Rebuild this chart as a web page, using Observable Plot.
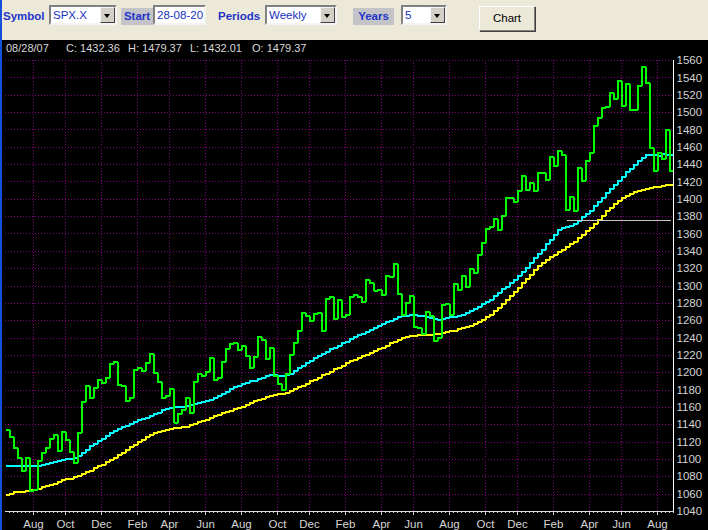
<!DOCTYPE html>
<html>
<head>
<meta charset="utf-8">
<script src="https://cdn.jsdelivr.net/npm/d3@7"></script>
<script src="https://cdn.jsdelivr.net/npm/@observablehq/plot@0.6"></script>
<style>
  html, body { margin: 0; padding: 0; background: #000; }
  body { width: 708px; height: 530px; position: relative; overflow: hidden;
         font-family: "Liberation Sans", Arial, sans-serif; }
  #toolbar { position: absolute; left: 0; top: 0; width: 708px; height: 40px; background: #ece9d8; }
  #edge { position: absolute; left: 0; top: 0; width: 2px; height: 530px; background: #1450d8; z-index: 5; }
  .lbl { position: absolute; top: 8px; height: 17px; line-height: 17px; font-weight: bold;
         font-size: 11.5px; color: #2233c8; white-space: nowrap; }
  .lbl.shade { background: #c4c4c8; text-align: center; }
  .field { position: absolute; top: 5px; height: 20px; box-sizing: border-box; background: #fff;
           border: 2px solid; border-color: #808080 #f4f4f4 #f4f4f4 #808080;
           font-size: 11.5px; line-height: 16px; color: #1530c0; padding-left: 2px; white-space: nowrap; }
  .drop { position: absolute; top: 0; right: 0; width: 15px; height: 16px; box-sizing: border-box;
          background: #d4d0c8; border: 1px solid; border-color: #f4f4f4 #404040 #404040 #f4f4f4; }
  .drop::after { content: ""; position: absolute; left: 3px; top: 6px; border-style: solid;
                 border-width: 4px 3.5px 0 3.5px; border-color: #000 transparent transparent transparent; }
  .button { position: absolute; top: 6px; height: 25px; box-sizing: border-box; background: #ece9d8;
            border: 1px solid; border-color: #fff #808080 #808080 #fff; box-shadow: 1px 1px 0 #404040;
            font-size: 11.5px; line-height: 23px; text-align: center; color: #000; }
  #chart { position: absolute; left: 0; top: 40px; }
  #info { position: absolute; left: 0; top: 42px; height: 12px; font-size: 11px; color: #d8d8d8;
          white-space: nowrap; }
  #info span { position: absolute; top: 0; }
</style>
</head>
<body>
<div id="toolbar">
  <span class="lbl" style="left:3px">Symbol</span>
  <div class="field" style="left:49px;width:68px">SPX.X<i class="drop"></i></div>
  <span class="lbl shade" style="left:121px;width:32px">Start</span>
  <div class="field" style="left:153px;width:53px">28-08-20</div>
  <span class="lbl" style="left:218px">Periods</span>
  <div class="field" style="left:265px;width:72px">Weekly<i class="drop"></i></div>
  <span class="lbl shade" style="left:353px;width:41px">Years</span>
  <div class="field" style="left:401px;width:46px">5<i class="drop"></i></div>
  <div class="button" style="left:479px;width:56px">Chart</div>
</div>
<div id="edge"></div>
<div id="chart"></div>
<div id="info"></div>
<script>
// Weekly S&P 500 bars, each dated by the Friday that ends its week.
const firstWeek = new Date(Date.UTC(2004, 5, 25));
const lastWeek = new Date(Date.UTC(2007, 7, 31));
const weeks = d3.utcFriday.range(firstWeek, d3.utcDay.offset(lastWeek, 1));

// Weekly closes (green)
const close = [
  1134.4, 1125.4, 1112.8, 1101.4, 1086.2, 1101.7, 1064.0, 1064.8, 1098.6, 1107.8,
  1113.6, 1123.9, 1128.6, 1110.1, 1131.5, 1122.1, 1108.2, 1095.7, 1130.2, 1166.2,
  1184.2, 1170.3, 1182.7, 1191.2, 1188.0, 1194.2, 1210.1, 1211.9, 1186.2, 1184.5,
  1167.9, 1171.4, 1203.0, 1205.3, 1201.6, 1211.4, 1222.1, 1200.1, 1189.7, 1171.4,
  1172.9, 1181.2, 1142.6, 1152.1, 1156.9, 1171.4, 1154.1, 1189.3, 1198.8, 1196.0,
  1200.9, 1217.0, 1191.6, 1194.4, 1211.9, 1227.9, 1233.7, 1234.2, 1226.4, 1230.4,
  1219.7, 1205.1, 1218.0, 1241.5, 1237.9, 1215.3, 1228.8, 1195.9, 1186.6, 1179.6,
  1198.4, 1220.1, 1234.7, 1248.3, 1268.3, 1265.1, 1259.4, 1267.3, 1268.7, 1248.3,
  1285.5, 1287.6, 1261.5, 1283.7, 1264.0, 1267.0, 1287.2, 1289.4, 1287.2, 1281.4,
  1307.3, 1303.0, 1294.8, 1295.5, 1289.1, 1311.3, 1310.6, 1325.8, 1291.2, 1267.0,
  1280.2, 1288.2, 1252.3, 1251.5, 1244.5, 1270.2, 1265.5, 1236.2, 1240.3, 1278.6,
  1279.4, 1266.7, 1302.3, 1295.1, 1311.0, 1298.9, 1319.7, 1314.8, 1335.9, 1349.6,
  1365.6, 1368.6, 1377.3, 1364.3, 1380.9, 1401.2, 1401.0, 1396.7, 1409.8, 1427.1,
  1410.8, 1418.3, 1409.7, 1430.7, 1430.5, 1422.2, 1448.4, 1438.1, 1455.5, 1451.2,
  1387.2, 1402.8, 1387.0, 1436.1, 1420.9, 1443.8, 1452.9, 1484.4, 1494.1, 1505.6,
  1505.9, 1522.8, 1515.7, 1536.3, 1507.7, 1532.9, 1502.6, 1503.4, 1530.4, 1552.5,
  1534.1, 1459.0, 1433.1, 1453.6, 1445.9, 1479.37, 1432.36
];

// Faster moving average (cyan)
const avgFast = [
  1093, 1093, 1093, 1093, 1093, 1092, 1092, 1092, 1093, 1094,
  1095, 1096, 1097, 1098, 1099, 1101, 1101, 1102, 1104, 1108,
  1111, 1115, 1118, 1121, 1124, 1127, 1130, 1133, 1135, 1137,
  1139, 1141, 1143, 1145, 1147, 1148, 1150, 1152, 1154, 1157,
  1158, 1159, 1160, 1160, 1161, 1162, 1163, 1164, 1165, 1166,
  1167, 1169, 1171, 1173, 1175, 1178, 1181, 1183, 1185, 1187,
  1188, 1190, 1191, 1193, 1194, 1196, 1197, 1197, 1196, 1196,
  1197, 1199, 1202, 1205, 1208, 1211, 1214, 1217, 1219, 1222,
  1224, 1227, 1229, 1231, 1234, 1236, 1239, 1241, 1243, 1245,
  1247, 1249, 1252, 1254, 1256, 1258, 1260, 1262, 1264, 1265,
  1265, 1266, 1266, 1265, 1265, 1264, 1263, 1262, 1261, 1262,
  1263, 1264, 1264, 1265, 1267, 1269, 1271, 1273, 1276, 1279,
  1282, 1284, 1288, 1292, 1296, 1299, 1303, 1307, 1311, 1316,
  1321, 1326, 1332, 1337, 1342, 1348, 1353, 1359, 1364, 1367,
  1368, 1369, 1371, 1375, 1379, 1383, 1387, 1392, 1397, 1402,
  1407, 1412, 1417, 1421, 1426, 1431, 1435, 1440, 1444, 1448,
  1451, 1451, 1451, 1450, 1452, 1451, 1451
];

// Slower moving average (yellow)
const avgSlow = [
  1059, 1060, 1062, 1063, 1063, 1064, 1065, 1065, 1066, 1068,
  1069, 1070, 1072, 1074, 1076, 1077, 1078, 1080, 1081, 1083,
  1085, 1087, 1090, 1092, 1094, 1097, 1099, 1102, 1105, 1108,
  1111, 1114, 1117, 1120, 1123, 1126, 1128, 1130, 1132, 1133,
  1134, 1135, 1136, 1136, 1137, 1138, 1140, 1141, 1143, 1144,
  1146, 1148, 1150, 1151, 1153, 1155, 1156, 1158, 1159, 1161,
  1163, 1165, 1167, 1169, 1170, 1172, 1173, 1174, 1175, 1176,
  1177, 1179, 1181, 1183, 1185, 1187, 1190, 1192, 1194, 1197,
  1199, 1201, 1204, 1206, 1208, 1211, 1213, 1215, 1217, 1219,
  1221, 1223, 1225, 1227, 1229, 1231, 1234, 1236, 1238, 1240,
  1241, 1242, 1242, 1243, 1243, 1244, 1244, 1245, 1245, 1246,
  1247, 1248, 1248, 1250, 1251, 1253, 1254, 1256, 1258, 1261,
  1264, 1267, 1271, 1275, 1279, 1284, 1288, 1293, 1298, 1303,
  1308, 1313, 1318, 1323, 1327, 1330, 1333, 1336, 1339, 1342,
  1345, 1348, 1351, 1355, 1359, 1363, 1367, 1371, 1376, 1381,
  1386, 1390, 1394, 1398, 1401, 1404, 1406, 1408, 1410, 1411,
  1412, 1413, 1414, 1414, 1415, 1416, 1417
];

// Horizontal level drawn from the March 2007 low
const supportLevel = 1375;
const supportFrom = new Date(Date.UTC(2007, 1, 26));
const supportTo = new Date(Date.UTC(2007, 7, 28));

// Latest bar shown in the status line
const lastBar = { date: "08/28/07", close: 1432.36, high: 1479.37, low: 1432.01, open: 1479.37 };

// Axis ticks
const priceTicks = d3.range(1040, 1561, 20);
const monthTicks = [
  "2004-08-06", "2004-10-01", "2004-12-03", "2005-02-04", "2005-04-01", "2005-06-03",
  "2005-08-05", "2005-10-07", "2005-12-02", "2006-02-03", "2006-04-07", "2006-06-02",
  "2006-08-04", "2006-10-06", "2006-12-01", "2007-02-02", "2007-04-06", "2007-06-01",
  "2007-08-03"
].map(s => new Date(s + "T00:00:00Z"));

// Step series: each weekly value is held across the week that it closes.
function steps(values) {
  const pts = weeks.map((d, i) => ({ date: d, value: values[i] }));
  pts.unshift({ date: d3.utcDay.offset(weeks[0], -7), value: values[0] });
  return pts;
}

const xStart = d3.utcDay.offset(weeks[0], -7);
const xEnd = weeks[weeks.length - 1];
const lineStyle = { x: "date", y: "value", curve: "step-before", strokeWidth: 2,
                    strokeLinejoin: "miter", strokeLinecap: "butt", shapeRendering: "crispEdges" };
const grid = { stroke: "#800080", strokeOpacity: 1, strokeDasharray: "1,2", shapeRendering: "crispEdges" };

const chart = Plot.plot({
  width: 708,
  height: 490,
  marginTop: 20,
  marginRight: 35,
  marginBottom: 19,
  marginLeft: 5,
  style: { background: "#000", color: "#d4d4d4", fontFamily: "'Liberation Sans', Arial, sans-serif", fontSize: "11.5px" },
  x: { type: "utc", domain: [xStart, xEnd], label: null },
  y: { domain: [1040, 1560], label: null },
  marks: [
    Plot.gridY(priceTicks.filter(v => v > 1040), grid),
    Plot.gridX(monthTicks, grid),
    Plot.line(steps(avgSlow), { ...lineStyle, stroke: "#ffff00" }),
    Plot.line(steps(avgFast), { ...lineStyle, stroke: "#00ffff" }),
    Plot.line(steps(close), { ...lineStyle, stroke: "#00ff00" }),
    Plot.ruleY([supportLevel], { x1: supportFrom, x2: supportTo, stroke: "#c8c8c8", strokeWidth: 1, shapeRendering: "crispEdges" }),
    Plot.ruleX([xEnd], { stroke: "#ffffff" }),
    Plot.ruleY([1040], { stroke: "#e0e0e0" }),
    Plot.axisX(weeks, { tickSize: 2, tickFormat: () => "", label: null }),
    Plot.axisX(monthTicks, { tickSize: 4, tickPadding: 4, tickFormat: d3.utcFormat("%b"), label: null }),
    Plot.axisY(priceTicks, { anchor: "right", tickSize: 0, tickPadding: 3, tickFormat: "d", label: null })
  ]
});
document.getElementById("chart").append(chart);

// Status line for the latest bar
const info = document.getElementById("info");
const fmt = d3.format(".2f");
[
  [6, lastBar.date],
  [66, "C: " + fmt(lastBar.close)],
  [128, "H: " + fmt(lastBar.high)],
  [190, "L: " + fmt(lastBar.low)],
  [252, "O: " + fmt(lastBar.open)]
].forEach(([left, text]) => {
  const s = document.createElement("span");
  s.style.left = left + "px";
  s.textContent = text;
  info.append(s);
});
</script>
</body>
</html>
